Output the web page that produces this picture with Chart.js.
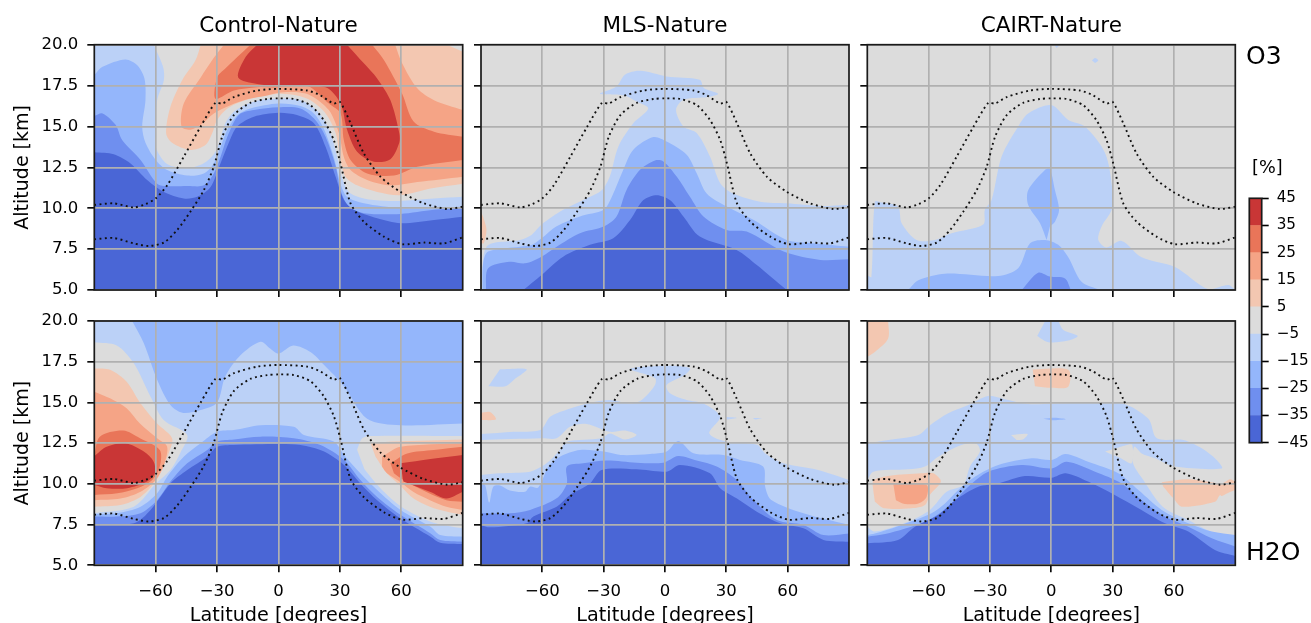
<!DOCTYPE html>
<html><head><meta charset="utf-8">
<script src="https://cdn.jsdelivr.net/npm/chart.js@4/dist/chart.umd.js"></script>
<style>
html,body{margin:0;padding:0;background:#fff;width:1311px;height:623px;overflow:hidden}
canvas{position:absolute;filter:blur(0.4px)}
.lab{position:absolute;font-family:"DejaVu Sans";color:#000;white-space:nowrap;line-height:1;filter:blur(0.4px)}
</style></head><body>
<div class="lab" style="left:1246px;top:43px;font-size:25px">O3</div>
<div class="lab" style="left:1246px;top:539px;font-size:25px">H2O</div>
<div class="lab" style="left:1252px;top:159px;font-size:17.7px">[%]</div>
<script>
// level boundaries and tick lists
const colourLevels = [-45,-35,-25,-15,-5,5,15,25,35,45];
const latTicks = [-60,-30,0,30,60];
const altTicks = [5,7.5,10,12.5,15,17.5,20];
const titles = ['Control-Nature','MLS-Nature','CAIRT-Nature'];
const bandColours = {n40:'#4a66d6',n30:'#6f8fef',n20:'#94b6fb',n10:'#bbd1f7',z0:'#dcdcdc',p10:'#f3c7b1',p20:'#f5a486',p30:'#e97559',p40:'#c93636'};
const domain = [[-90,5],[90,5],[90,20],[-90,20]];

// tropopause lines, [latitude, altitude km]
const tropoUpper = [[-90,10.2],[-80.5,10.3],[-70.7,10.05],[-65,10.25],[-60,10.6],[-54.4,11.4],[-46.3,13.15],[-38,15],[-30.8,16.45],[-27.5,16.4],[-21.8,16.8],[-10.4,17.2],[0,17.3],[14,17.2],[20.5,16.9],[27,16.4],[30,16.5],[35.2,15.2],[41.7,13.35],[49.8,11.93],[59.6,11],[71,10.3],[82.4,9.95],[90,10.1]];
const tropoLower = [[-90,8.1],[-80.5,8.18],[-70.7,7.85],[-63.4,7.69],[-56,7.9],[-49.5,8.67],[-43,9.8],[-36.5,11.1],[-31.6,12.54],[-27.5,14.37],[-21.8,15.7],[-13.7,16.45],[-5.5,16.68],[0,16.72],[7.5,16.68],[15.6,16.3],[22,15.4],[27,14.17],[30.3,12.74],[35.2,10.3],[41.7,9.18],[51.5,8.26],[60.4,7.8],[71,7.9],[80.8,7.85],[90,8.22]];

// Control-Nature O3 contour polygons
const a_n10 = [[-90,20],[-61,20],[-56.4,18.65],[-56,17.84],[-59.3,16.6],[-60,15],[-60,13.76],[-54.4,12.7],[-44.6,12.45],[-36.5,12.75],[-31.6,13.3],[-29,14],[-26,15.2],[-21.8,15.9],[-15.3,16.37],[-7,16.66],[0,16.7],[9,16.66],[15.6,16.3],[21.3,15.6],[25.4,14.6],[28.7,13.15],[31,11.9],[34.4,11],[41.7,10.6],[51.5,10.46],[61,10.46],[76,10.6],[90,10.7],[90,5],[-90,5]];
const a_n20 = [[-90,18.14],[-86,18.65],[-74.8,19.1],[-69,18.75],[-65.5,17.94],[-65,16.6],[-66.6,15],[-65,14],[-60,12.95],[-54.4,12.34],[-44.6,12],[-36.5,12.13],[-31.6,12.74],[-28.3,13.76],[-25,14.8],[-20,15.7],[-13.7,16.1],[0,16.4],[10.7,16.25],[17.3,15.8],[22,14.9],[27,13.15],[30.3,11.5],[33.5,10.7],[41.7,10.3],[59.6,10],[76,10],[90,10.1],[90,5],[-90,5]];
const a_n30 = [[-90,15.64],[-86,15.8],[-79.6,15.1],[-76.4,14.17],[-67.4,12.95],[-59.3,11.5],[-54,11.35],[-44.6,11.36],[-36.5,11.4],[-31.6,12.13],[-28.3,13.15],[-25,14.37],[-19.4,15.7],[-12,16],[0,16.17],[10.7,16.1],[18,15.4],[23,14.37],[28,12.54],[30.3,11.1],[34.4,10.1],[41.7,9.7],[59.6,9.65],[76,9.9],[90,10],[90,5],[-90,5]];
const a_n40 = [[-90,13.42],[-80.5,13.3],[-72.3,12.74],[-64.2,11.73],[-56,11],[-46.3,10.6],[-39.7,10.7],[-33.2,11.3],[-29,12.54],[-24.3,14],[-20.2,15],[-12,15.6],[0,15.84],[9,15.7],[17.3,15.2],[23,13.76],[27.9,11.93],[32,10.5],[36.8,9.9],[48.2,9.38],[59.6,9.08],[76,9.28],[90,9.48],[90,5],[-90,5]];
const a_p10 = [[-38,20],[-40.5,19.06],[-47,17.84],[-52.8,16.2],[-54.9,14.58],[-52,14],[-43,13.56],[-35.7,13.86],[-32.4,14.58],[-30,15.4],[-25,16.1],[-18.6,16.5],[-10.4,16.8],[0,17],[9,16.9],[15.6,16.6],[23,15.8],[27.9,14.6],[30.3,12.95],[32.7,11.93],[38.4,11.4],[48.2,11],[59.6,10.8],[74.3,11.2],[90,11.5],[90,19.57],[82.4,20]];
const a_p20 = [[-26.7,20],[-31.6,19.2],[-38,18],[-46.3,16.4],[-47.4,15],[-43,14.8],[-38,15.1],[-31.6,15.8],[-23.5,16.3],[-15.3,16.66],[-5.5,16.9],[0,17.06],[7.5,17.1],[15.6,16.9],[24.6,16],[29.5,14.6],[31.9,13.15],[35.2,12.34],[43.3,11.73],[54.7,11.4],[67.8,11.6],[90,11.93],[90,16],[76,16.6],[67.8,17.33],[60.4,18.86],[57,20]];
const a_p30 = [[-13.7,20],[-26,18.55],[-30,18],[-30.8,16.7],[-21.8,17.2],[-10.4,17.4],[0,17.4],[7.5,17.63],[15.6,17.4],[24.6,16.4],[30.3,15.8],[31.9,14.17],[35.2,12.95],[43.3,12.13],[56.4,12],[67.8,12.54],[90,12.95],[90,14.37],[76,14.68],[66,15.3],[60.4,17],[51.5,19.06],[45.8,20]];
const a_p40 = [[-10.4,20],[-16,19.26],[-19.7,18],[-10.4,17.6],[0,17.47],[23,17.4],[30.3,16.4],[33.5,14.8],[38.4,13.46],[46.6,12.85],[54.7,13],[59,14],[59,14.6],[54.7,16.6],[48.2,17.94],[41.7,18.86],[33.5,20]];

// MLS-Nature O3
const b_n10 = [[-90,5],[-89.6,5],[-87.3,7.65],[-71,8.06],[-65.3,8.37],[-60.4,9],[-49.8,9.9],[-38.4,10.6],[-31,11.1],[-27,11.94],[-22.8,13.78],[-15.5,15.2],[-8.2,16.1],[-13.9,16.53],[-20,16.9],[-31.8,17],[-23.7,17.45],[-19.6,18.16],[-12.2,18.4],[0.8,18.06],[17,17.86],[19,17.35],[26,17],[21,16.8],[9,16.63],[5.4,16],[9,15],[15.5,14.6],[22,13.16],[27,11.53],[33.4,10.9],[46.5,10.4],[59.5,10.3],[75.9,10.14],[89,10.2],[90,10.2],[90,5]];
const b_n20 = [[-89.2,5],[-89,6.6],[-86.5,7.35],[-71,7.65],[-65.3,7.75],[-60.4,8.16],[-53,8.9],[-41.6,9.5],[-30,9.9],[-26,10.7],[-20.4,12.35],[-15.5,13.57],[-5.7,14.35],[0.8,14.08],[10.6,13.27],[15.5,12.14],[20.4,10.9],[30.2,10.1],[43.2,9.29],[59.5,8.06],[72.6,7.86],[90,7.65],[90,5]];
const b_n30 = [[-87.6,5],[-86.5,6.33],[-75.9,6.73],[-68.5,6.63],[-60.4,7.04],[-53,7.65],[-41.6,8.47],[-30,8.88],[-23.7,9.5],[-18.8,11.12],[-12.2,12.35],[-4.9,12.92],[-0.8,12.86],[5.7,11.94],[12.2,10.7],[18.8,9.5],[30.2,8.67],[40,8.57],[58,7.35],[75.9,6.84],[90,6.88],[90,5]];
const b_n40 = [[-69.3,5],[-60.4,5.92],[-49.8,7.04],[-36.7,7.76],[-25.3,8.16],[-17,9.29],[-10.6,10.5],[-4,10.8],[2.4,10.5],[9,9.5],[17,8.27],[35,7.45],[44.9,6.53],[59.5,5]];
const b_p10 = [[-90,9.8],[-88.5,9.3],[-87.3,8.67],[-88.6,7.86],[-90,7.86]];

// CAIRT-Nature O3
const c_n10 = [[-90,5],[-90,5.9],[-88,5.8],[-86.3,10.4],[-83,10.35],[-75,10.1],[-73.2,9.08],[-65.9,8.06],[-57,8.06],[-48.8,8.47],[-33.3,9],[-32.5,9.9],[-29.2,10.5],[-24.3,13.16],[-16.2,15],[-11.3,15.8],[0.2,16.3],[8.3,15.4],[16.5,15],[26.3,13.37],[29.9,11.1],[29.5,9.9],[24.6,8.88],[23,8.06],[27,7.6],[34.4,8],[44.2,7],[60.5,6.4],[76.8,5.04],[86.6,5.3],[90,5]];
const c_n10top = [[1.3,20],[4.2,20],[2.6,19.8]];
const c_n10spot = [[19.9,19.04],[21.4,19.18],[23,19.04],[21.4,18.88]];
const c_n20low = [[-70,5],[-65,5.6],[-52,6],[-26,5.86],[-16.2,6.33],[-10.4,7.86],[-3,8.06],[3.4,7.76],[8.3,7],[14.8,5.5],[23.8,5]];
const c_n20mid = [[-2.3,8.06],[-5.5,9.08],[-11.3,10.2],[-11.3,11.1],[-3,12.35],[-0.7,12.4],[1.8,11.1],[3.8,9.9],[1.8,9.18],[-0.7,8.88]];
const c_n30 = [[-14.5,5],[-6.4,6.06],[-0.7,5.82],[6.7,5.71],[9.6,5]];

// Control-Nature H2O
const d_n10 = [[-90,20],[-71.5,20],[-65.8,18.63],[-59.3,16.4],[-52.8,14.84],[-47,14.37],[-38,14.54],[-30,15],[-26,16.6],[-18.6,17.9],[-8.8,18.73],[-3.9,18.3],[0,18],[7.2,18.5],[15.6,18.1],[22.3,17.3],[32,16],[43.3,14],[59.6,13.6],[90,13.7],[90,5],[-90,5]];
const d_z0left = [[-90,18.7],[-79,18.5],[-70.7,17.4],[-62.5,15.35],[-56,13.9],[-44.6,13],[-48,11.9],[-52.8,10.85],[-60,10],[-70.7,8.6],[-90,8.2]];
const d_z0right = [[38.4,12.1],[40.9,12.8],[45,12.94],[90,12.94],[90,7.27],[75,7.65],[60,8.6],[50,9.7],[42,10.9]];
const d_p10left = [[-90,17.1],[-82.3,17],[-74.2,16.27],[-67.7,15],[-59.3,13.7],[-52,12.8],[-53.6,11.9],[-57.7,10.65],[-61,10],[-67.4,9.2],[-77.2,8.7],[-90,8.6]];
const d_p20left = [[-90,15.66],[-82.3,15.25],[-74.2,14.64],[-67.7,13.7],[-59.3,12.8],[-54.4,12.28],[-56,11.16],[-60,10.24],[-67.4,9.52],[-77.2,9.1],[-90,9]];
const d_p30left = [[-90,11.77],[-87.3,12.9],[-75.9,13.27],[-67.7,12.8],[-58,12.08],[-58,11.06],[-61.7,10.24],[-69,9.73],[-78.8,9.42],[-90,9.32]];
const d_p40left = [[-90,11.7],[-84,12.28],[-74.8,12.49],[-65.8,11.98],[-61,11.36],[-60.4,10.65],[-64.2,10.14],[-74,9.73],[-84,9.73],[-90,9.93]];
const d_p10right = [[45,12.5],[56.4,12.6],[90,12.73],[90,8.1],[82,8.3],[74,8.6],[66,9.1],[60,9.83],[53,10.65],[47.4,11.67]];
const d_p20right = [[50.6,11.67],[59.6,12.28],[90,12.5],[90,8.4],[82,8.6],[74,9],[66,9.5],[59.6,10.1],[53,10.65],[50.6,11.05]];
const d_p30right = [[54.7,11.26],[62.9,11.87],[75.9,12.08],[90,12.28],[90,8.9],[82,9],[72.3,9.5],[61,10.24],[56.4,10.65]];
const d_p40right = [[59.6,11.26],[74.3,11.53],[90,11.77],[90,9.52],[82,9.1],[74.3,9.5],[61,10.14]];
const d_n20 = [[-90,8.15],[-79,8.2],[-67.4,8.6],[-59.3,9.42],[-54.4,10.44],[-46.3,11.67],[-38,12.5],[-30,13.2],[-21.8,13.3],[-8.8,13.6],[7.5,13.5],[12.4,13],[27,12.6],[32,11.77],[40,10.65],[48.2,9.62],[59.6,8.4],[74.3,7.37],[79,6.86],[90,6.76],[90,5],[-90,5]];
const d_n30 = [[-90,8],[-79,8],[-67.4,8.2],[-59.3,9],[-52.8,10.14],[-44.6,11.26],[-34.8,12.08],[-30,12.6],[-21.8,12.73],[-8.8,12.9],[7.5,12.8],[20.5,12.38],[32,11.47],[40,10.24],[48.2,9.2],[59.6,8.1],[74.3,6.96],[79,6.55],[90,6.45],[90,5],[-90,5]];
const d_n40 = [[-90,7.48],[-70.7,7.58],[-62.5,8.4],[-52.8,10.03],[-44.6,10.85],[-34.8,11.67],[-30,12.28],[-21.8,12.39],[0,12.45],[10.7,12.39],[22,12],[32,11.16],[40,10.03],[48.2,9],[59.6,7.88],[74.3,6.76],[79,6.39],[90,6.31],[90,5],[-90,5]];

// MLS-Nature H2O
const e_n10 = [[-90,13.06],[-74,13.2],[-61,13.3],[-56,14.13],[-46,14.64],[-38,14.94],[-27,15.15],[-17,14.94],[-11.4,15.15],[-4.9,16.07],[-4.9,16.5],[-17,17.05],[0.8,17.25],[12.2,17.1],[9.8,16.7],[0.8,16.07],[2.4,15.56],[10.6,15.15],[18.8,14.94],[27,14.13],[21.7,13.1],[30,12.6],[45,12.4],[49,11.87],[58,11.26],[74.9,10.85],[90,10.24],[90,5],[-90,5]];
const e_z0island = [[-90,12.69],[-60.4,12.8],[-53,12.8],[-46.5,13.51],[-38.4,13.68],[-27,13.2],[-19.6,13.27],[-13.9,13],[-19.6,12.73],[-27,13.1],[-31,12.8],[-48,12.59],[-51.4,12.08],[-56,11.47],[-60.4,11.06],[-66,10.75],[-80.7,10.65],[-90,10.55]];
const e_n10blob = [[-80.7,17.03],[-67.7,17.03],[-74,16.38],[-78,16],[-86.4,16]];
const e_n10sliverA = [[30,14.1],[35,14.05],[30,13.95]];
const e_n10sliverB = [[43,14.05],[47.5,14.03],[44,13.95]];
const e_p10 = [[-90,14.37],[-85.6,14.41],[-82.7,13.96],[-90,13.92]];
const e_n20 = [[-90,10.03],[-88,9.93],[-86,8.85],[-84,9.83],[-80.7,9.9],[-75.9,9.6],[-68.5,9.52],[-66,9.83],[-62,9.77],[-57,11.06],[-51.4,11.67],[-41.6,12.08],[-29.9,11.98],[-21.7,11.77],[-7.3,11.83],[0.8,11.98],[6.5,12.63],[13.9,11.88],[28.5,11.77],[36.7,11.47],[48,11.06],[49,9.83],[52,9.01],[67.7,8.19],[90,7.48],[90,5],[-90,5]];
const e_n30 = [[-90,8.19],[-75.9,8.19],[-66,8.4],[-53,9.11],[-48,10.03],[-48,11.06],[-40,11.26],[-28.6,11.43],[-13.9,11.3],[-0.8,11.3],[6.5,11.71],[15.5,11.43],[25.3,11.06],[35,10.24],[43.2,9.01],[54.7,7.78],[67.7,7.48],[77.5,6.86],[90,6.96],[90,5],[-90,5]];
const e_n40 = [[-90,7.48],[-85.6,7.33],[-67.7,7.58],[-64.4,8],[-53,8.6],[-46.5,9.32],[-36.7,10.03],[-31,10.85],[-13.9,10.89],[0.8,10.75],[7.3,11.16],[22,10.65],[27,9.73],[35,9.11],[44.9,8.29],[56.3,7.58],[67.7,7.27],[77.5,6.56],[90,6.45],[90,5],[-90,5]];

// CAIRT-Nature H2O
const f_n10 = [[-90,12.49],[-79.7,12.69],[-65,13],[-59.3,13.6],[-50.4,14.33],[-40.6,14.84],[-30.8,15.4],[-22.7,15.19],[-11.3,14.9],[1.8,14.94],[34.4,14.94],[47.5,14],[51.6,12.8],[64.6,12.69],[73.6,12.18],[80.9,11.47],[83.4,10.95],[60.5,11.06],[50.7,11.57],[44.2,11.87],[40.6,12.28],[40,11.26],[45,10.24],[54.5,8.6],[66.7,7.8],[79.5,7],[90,6.8],[90,5],[-90,5]];
const f_z0left = [[-90,10.24],[-87,10.75],[-70,10.89],[-61.8,11.06],[-55.3,11.67],[-43.9,12.39],[-36.5,12.45],[-34.9,11.98],[-39.8,11.06],[-43,9.93],[-51.2,9.52],[-59.4,8.4],[-70,7.68],[-86.3,7.07],[-90,7.37]];
const f_z0mid = [[26.3,11.98],[36.9,12.39],[39.6,12.39],[39.3,11.27],[33.6,11.6],[29.5,11.8]];
const f_z0small = [[-19.7,13],[-11.6,13.06],[-13.7,12.74],[-17,12.69]];
const f_n10top = [[-3,20],[3.4,20],[5.9,19.45],[12.9,19.08],[8.3,18.8],[-1.5,18.7],[-6.9,19.08]];
const f_n20small = [[-3.9,14],[1.8,14.06],[7,13.97],[0.2,13.9]];
const f_p10left = [[-87,9.52],[-87,10.2],[-79,10.5],[-63.5,10.65],[-57.7,10.65],[-54,10.14],[-59.4,9.32],[-61.8,8.7],[-68.4,8.5],[-81.7,8.5],[-86.3,8.9]];
const f_p20left = [[-77.3,10],[-61,9.93],[-61,9.2],[-65,8.8],[-71.6,8.77],[-76,9]];
const f_p10right = [[54,10.1],[67,10.28],[83.4,10.03],[87.4,10.28],[90,10.14],[90,9.62],[87.4,9.5],[83.4,9.26],[82.5,9.32],[80,8.9],[63.8,8.6],[59.7,9.11],[54.8,9.83]];
const f_p10corner = [[-90,20],[-79.8,20],[-79.8,18.93],[-86.3,18.1],[-90,17.8]];
const f_p10centre = [[-9.1,17.03],[8.3,17],[8.3,15.97],[0.2,15.9],[-8,16]];
const f_n20 = [[-90,6.85],[-86.3,6.95],[-75,7.4],[-58.6,8.2],[-52,8.8],[-45.5,9.62],[-37.4,10.44],[-25.9,11.16],[-9.6,11.57],[0.2,11.47],[7,11.84],[18,11.36],[32.8,10.65],[42.6,9.62],[54,8.4],[67,7.58],[78.5,7.07],[90,6.86],[90,5],[-90,5]];
const f_n30 = [[-90,6.76],[-81.3,6.92],[-61.8,7.68],[-50.4,8.6],[-40.6,9.83],[-30.8,10.75],[-14.5,11.16],[0.2,10.95],[7.5,11.36],[21.4,10.75],[34.4,10.03],[44.2,9],[55.6,7.99],[67,7.37],[78.5,6.66],[90,6.15],[90,5],[-90,5]];
const f_n40 = [[-90,6.35],[-75,6.56],[-66.7,7.37],[-55.3,8.09],[-47,9],[-35.7,9.83],[-25.9,10.03],[-12.9,10.48],[0.2,10.38],[7,10.65],[18,10.14],[31,9.32],[42.6,8.5],[55.6,7.58],[67,7.07],[80,5.94],[90,5.57],[90,5],[-90,5]];

// painter's order of layers for each panel
const panelLayers = [
 [[domain,'z0'],[a_n10,'n10'],[a_n20,'n20'],[a_n30,'n30'],[a_n40,'n40'],[a_p10,'p10'],[a_p20,'p20'],[a_p30,'p30'],[a_p40,'p40']],
 [[domain,'z0'],[b_n10,'n10'],[b_n20,'n20'],[b_n30,'n30'],[b_n40,'n40'],[b_p10,'p10']],
 [[domain,'z0'],[c_n10,'n10'],[c_n10top,'n10'],[c_n10spot,'n10'],[c_n20low,'n20'],[c_n20mid,'n20'],[c_n30,'n30']],
 [[domain,'n20'],[d_n10,'n10'],[d_z0left,'z0'],[d_z0right,'z0'],[d_p10left,'p10'],[d_p20left,'p20'],[d_p30left,'p30'],[d_p40left,'p40'],[d_p10right,'p10'],[d_p20right,'p20'],[d_p30right,'p30'],[d_p40right,'p40'],[d_n20,'n20'],[d_n30,'n30'],[d_n40,'n40']],
 [[domain,'z0'],[e_n10,'n10'],[e_z0island,'z0'],[e_n10blob,'n10'],[e_n10sliverA,'n10'],[e_n10sliverB,'n10'],[e_p10,'p10'],[e_n20,'n20'],[e_n30,'n30'],[e_n40,'n40']],
 [[domain,'z0'],[f_n10,'n10'],[f_z0left,'z0'],[f_z0mid,'z0'],[f_z0small,'z0'],[f_n10top,'n10'],[f_n20small,'n20'],[f_p10left,'p10'],[f_p20left,'p20'],[f_p10right,'p10'],[f_p10corner,'p10'],[f_p10centre,'p10'],[f_n20,'n20'],[f_n30,'n30'],[f_n40,'n40']]
];

const FONT = '"DejaVu Sans"';
const minus = v => String(v).replace('-','\u2212');
const toPts = a => a.map(p => ({x:p[0], y:p[1]}));
// points on the frame are repeated so the spline keeps those corners sharp
const onFrame = p => Math.abs(p[0])===90 || p[1]===5 || p[1]===20;
const toShape = a => toPts(a.flatMap(p => onFrame(p) ? [p,p] : [p]));
const fixBox = (s,prop,size) => { s[prop]=size; s.paddingTop=0; s.paddingBottom=0; s.paddingLeft=0; s.paddingRight=0; };

const spinePlugin = {id:'spine',
  beforeDatasetDraw(chart,args){ if(chart.data.datasets[args.index].lateDraw) return false; },
  afterDraw(chart){
    chart.data.datasets.forEach((d,i)=>{ if(d.lateDraw) chart.getDatasetMeta(i).controller.draw(); });
    const a = chart.chartArea, c = chart.ctx;
    c.save(); c.strokeStyle='#1a1a1a'; c.lineWidth=1.7;
    c.strokeRect(a.left,a.top,a.right-a.left,a.bottom-a.top); c.restore();
  }};

function addCanvas(l,t,w,h){
  const c=document.createElement('canvas');
  c.width=w;c.height=h;c.style.left=l+'px';c.style.top=t+'px';c.style.width=w+'px';c.style.height=h+'px';
  document.body.appendChild(c);return c;
}

const cols=[{left:0,w:466,inset:94.3,padR:3.3},{left:469,w:383,inset:12,padR:3},{left:855,w:384,inset:12.3,padR:3.7}];
const rows=[{top:0,h:310,padT:0,padB:0,xh:20},{top:309,h:319,padT:12,padB:0.6,xh:62.1}];

panelLayers.forEach((layers,idx)=>{
  const ci=idx%3, ri=Math.floor(idx/3), C=cols[ci], R=rows[ri];
  const tropo=[tropoUpper,tropoLower].map((a,k)=>({label:k?'Lower tropopause':'Upper tropopause',data:toPts(a),showLine:true,fill:false,pointRadius:0,
     borderColor:'#111',borderWidth:1.9,borderDash:[1.9,3.4],tension:0.25,lateDraw:true}));
  const fills=layers.map(([pts,band])=>({label:band,data:toShape(pts),showLine:true,fill:'shape',pointRadius:0,borderWidth:0,backgroundColor:bandColours[band],tension:0.3}));
  new Chart(addCanvas(C.left,R.top,C.w,R.h),{
    type:'scatter',
    data:{datasets:tropo.concat(fills.reverse())},
    plugins:[spinePlugin],
    options:{responsive:false,animation:false,events:[],
      layout:{padding:{left:0,right:C.padR,top:R.padT,bottom:R.padB}},
      plugins:{legend:{display:false},tooltip:{enabled:false},
        title:{display:ri===0,fullSize:false,text:titles[ci],color:'#000',font:{family:FONT,size:21.5,weight:'normal',lineHeight:1.2},padding:{top:13.5,bottom:5.4}}},
      scales:{
        x:{type:'linear',min:-90,max:90,
          afterBuildTicks:s=>{s.ticks=latTicks.map(v=>({value:v}));},
          afterFit:s=>fixBox(s,'height',R.xh),
          border:{display:false},
          grid:{color:'#b0b0b0',lineWidth:1.7,z:1,tickLength:7,tickColor:'#000',tickWidth:1.6},
          ticks:{display:ri===1,color:'#000',font:{family:FONT,size:16.5},padding:10,maxRotation:0,autoSkip:false,callback:minus},
          title:{display:ri===1,text:'Latitude [degrees]',color:'#000',font:{family:FONT,size:19.2},padding:{top:0,bottom:0}}},
        y:{type:'linear',min:5,max:20,
          afterBuildTicks:s=>{s.ticks=altTicks.map(v=>({value:v}));},
          afterFit:s=>fixBox(s,'width',C.inset),
          border:{display:false},
          grid:{color:'#b0b0b0',lineWidth:1.7,z:1,tickLength:7,tickColor:'#000',tickWidth:1.6},
          ticks:{display:ci===0,color:'#000',font:{family:FONT,size:16.5},padding:9,autoSkip:false,callback:v=>Number(v).toFixed(1)},
          title:{display:ci===0,text:'Altitude [km]',color:'#000',font:{family:FONT,size:19},padding:{top:11.5,bottom:0}}}
      }}
  });
});

// colour bar
const bandKeys=['n40','n30','n20','n10','z0','p10','p20','p30','p40'];
new Chart(addCanvas(1240,185,71,270),{
  type:'bar',
  data:{labels:['%'],datasets:bandKeys.map((k,i)=>({label:k,data:[[colourLevels[i],colourLevels[i+1]]],backgroundColor:bandColours[k],borderWidth:0,barPercentage:1,categoryPercentage:1,grouped:false}))},
  plugins:[spinePlugin],
  options:{responsive:false,animation:false,events:[],
    layout:{padding:{left:9.3,right:0,top:13.3,bottom:12.3}},
    plugins:{legend:{display:false},tooltip:{enabled:false}},
    scales:{
      x:{display:false},
      y:{position:'right',min:-45,max:45,
        afterBuildTicks:s=>{s.ticks=colourLevels.map(v=>({value:v}));},
        afterFit:s=>fixBox(s,'width',49.3),
        border:{display:false},
        grid:{drawOnChartArea:false,tickLength:7,tickColor:'#000',tickWidth:1.6},
        ticks:{color:'#000',font:{family:FONT,size:15.2},padding:8,autoSkip:false,callback:minus}}
    }}
});
</script>
</body></html>
